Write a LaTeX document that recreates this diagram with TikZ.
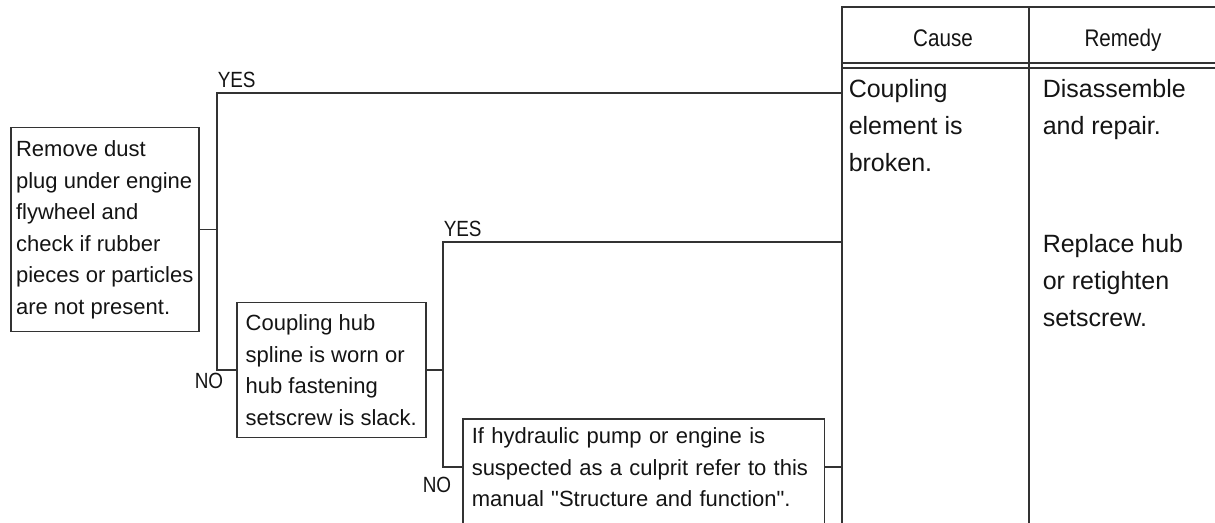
\documentclass[tikz,border=0pt]{standalone}
\usepackage{fontspec}
\setmainfont{Liberation Sans}[Ligatures=TeXOff]
\newfontfamily\headfont{Liberation Sans}[FakeStretch=0.86]
\usepackage{tikz}

\begin{document}
\begin{tikzpicture}[x=0.5pt, y=-0.5pt, line width=0.75pt, draw=black!80, text=black!92,
    box/.style={draw, align=left, anchor=north west, inner sep=0pt, minimum width=94pt, font=\fontsize{11}{15.8}\selectfont},
    lbl/.style={inner sep=0pt, font=\headfont\fontsize{11}{12}\selectfont},
    head/.style={inner sep=0pt, anchor=base, font=\headfont\fontsize{12}{13}\selectfont},
    tab/.style={inner sep=0pt, align=left, anchor=north west, font=\fontsize{12.5}{18.5}\selectfont}]
    \useasboundingbox (0,0) rectangle (1215,523);
    \clip (0,0) rectangle (1215,523);

    % checks
    \node[box, minimum height=102pt] (check) at (10,127) {Remove dust\\plug under engine\\flywheel and\\check if rubber\\pieces or particles\\are not present.};
    \node[box, minimum width=94.5pt, minimum height=67.5pt] (worn) at (236,302) {Coupling hub\\spline is worn or\\hub fastening\\setscrew is slack.};
    \node[box, draw=none, text width=172pt, inner xsep=4pt, inner ysep=4pt] (culprit) at (463,419) {If hydraulic pump or engine is\\suspected as a culprit refer to this\\manual "Structure and function".};
    \draw ([yshift=-60pt]culprit.north west) -- (culprit.north west) -- (culprit.north east) -- ([yshift=-60pt]culprit.north east);

    % table
    \coordinate (tl) at (842,7);
    \draw (842,540) -- (tl) -- (1215,7);
    \draw (842,63) -- (1215,63) (842,68) -- (1215,68);
    \draw (1029,7) -- (1029,540);
    \node[head] (cause) at (943,47) {Cause};
    \node[head] (remedy) at (1123,47) {Remedy};
    \node[tab] (broken) at (848,79) {Coupling\\element is\\broken.};
    \node[tab] (repair) at (1042,79) {Disassemble\\and repair.};
    \node[tab] (retighten) at (1042,234) {Replace hub\\or retighten\\setscrew.};

    % connectors
    \coordinate (yes1) at (217,93);
    \coordinate (yes2) at (443,242);
    \coordinate (in3) at ([yshift=-24pt]culprit.north west);
    \coordinate (out3) at ([yshift=-24pt]culprit.north east);
    \draw (check.east) -| (yes1) -- (yes1 -| tl);
    \draw (yes1) |- (worn.west);
    \draw (worn.east) -| (yes2) -- (yes2 -| tl);
    \draw (yes2) |- (in3);
    \draw (out3) -- (out3 -| tl);

    % answers
    \node[lbl, anchor=base west] (yes1lbl) at ([yshift=2.5pt]yes1) {YES};
    \node[lbl, anchor=base west] (yes2lbl) at ([yshift=2.5pt]yes2) {YES};
    \node[lbl, anchor=north] (no1lbl) at (209,372) {NO};
    \node[lbl, anchor=north] (no2lbl) at (437,476) {NO};
\end{tikzpicture}
\end{document}
